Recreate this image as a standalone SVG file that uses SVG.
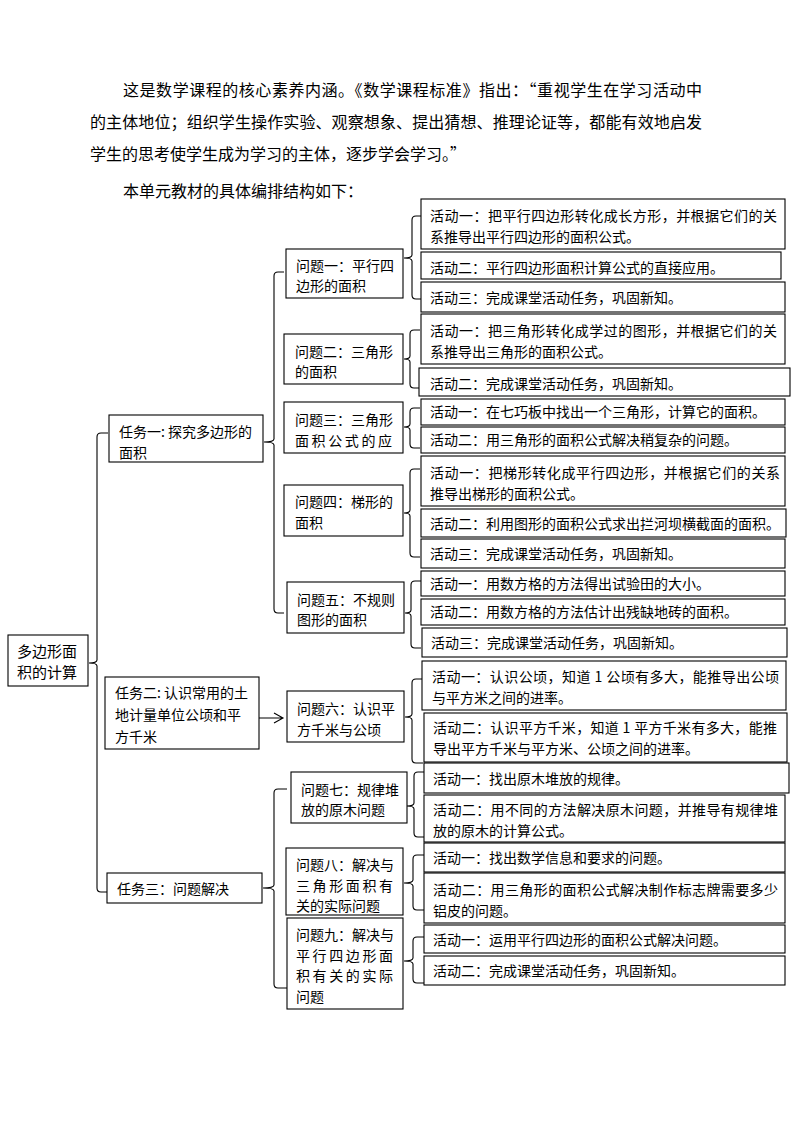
<svg xmlns="http://www.w3.org/2000/svg" width="794" height="1123" viewBox="0 0 794 1123">
<style>
  .b{fill:#fff;stroke:#000;stroke-width:1.1}
  .t{font-family:"Noto Sans CJK SC","Noto Sans CJK JP",sans-serif;font-size:14px;fill:#000}
  .p{font-family:"Noto Sans CJK SC","Noto Sans CJK JP",sans-serif;font-size:16px;fill:#000}
  .c{fill:none;stroke:#000;stroke-width:1.1}
</style>
<rect width="794" height="1123" fill="#fff"/>
<g id="intro">
  <text class="p" x="123" y="96" textLength="579" lengthAdjust="spacing">这是数学课程的核心素养内涵。《数学课程标准》指出：“重视学生在学习活动中</text>
  <text class="p" x="90" y="128" textLength="612" lengthAdjust="spacing">的主体地位；组织学生操作实验、观察想象、提出猜想、推理论证等，都能有效地启发</text>
  <text class="p" x="90" y="160">学生的思考使学生成为学习的主体，逐步学会学习。”</text>
  <text class="p" x="123" y="197">本单元教材的具体编排结构如下：</text>
</g>
<g id="connectors">
  <path class="c" d="M108 433 H101 Q97 433 97 437 V660 Q97 663 89 663 Q97 663 97 666 V888 Q97 892 101 892 H108"/>
  <path class="c" d="M284 272 H278 Q274 272 274 276 V439 Q274 442 264 442 Q274 442 274 445 V609 Q274 613 278 613 H284"/>
  <path class="c" d="M287 789 H278 Q274 789 274 793 V885 Q274 888 263 888 Q274 888 274 891 V984 Q274 988 278 988 H287"/>
  <path class="c" d="M421 216 H416 Q412 216 412 220 V255 Q412 258 404 258 Q412 258 412 261 V295 Q412 299 416 299 H421"/>
  <path class="c" d="M420 330 H414 Q410 330 410 334 V356 Q410 359 404 359 Q410 359 410 362 V384 Q410 388 414 388 H420"/>
  <path class="c" d="M420 408 H414 Q410 408 410 412 V424 Q410 427 404 427 Q410 427 410 430 V444 Q410 448 414 448 H420"/>
  <path class="c" d="M420 469 H414 Q410 469 410 473 V510 Q410 513 404 513 Q410 513 410 516 V553 Q410 557 414 557 H420"/>
  <path class="c" d="M421 581 H415 Q411 581 411 585 V610 Q411 613 405 613 Q411 613 411 616 V644 Q411 648 415 648 H421"/>
  <path class="c" d="M423 679 H416 Q412 679 412 683 V714 Q412 717 405 717 Q412 717 412 720 V759 Q412 763 416 763 H423"/>
  <path class="c" d="M424 772 H418 Q414 772 414 776 V803 Q414 806 407 806 Q414 806 414 809 V833 Q414 837 418 837 H424"/>
  <path class="c" d="M424 855 H417 Q413 855 413 859 V880 Q413 883 404 883 Q413 883 413 886 V906 Q413 910 417 910 H424"/>
  <path class="c" d="M424 937 H417 Q413 937 413 941 V958 Q413 961 404 961 Q413 961 413 964 V979 Q413 983 417 983 H424"/>
  <path class="c" d="M259 718 H282 M274 713 L283 718 L274 723"/>
</g>
<g id="root">
  <rect class="b" x="8" y="635" width="80" height="51"/>
  <text class="t" x="17" y="657" style="font-size:15px">多边形面</text>
  <text class="t" x="17" y="678" style="font-size:15px">积的计算</text>
</g>
<g id="task1">
  <rect class="b" x="109" y="415" width="154" height="47"/>
  <text class="t" x="119" y="437">任务一: 探究多边形的</text>
  <text class="t" x="119" y="458">面积</text>
</g>
<g id="task2">
  <rect class="b" x="105" y="677" width="154" height="72"/>
  <text class="t" x="115" y="698">任务二: 认识常用的土</text>
  <text class="t" x="115" y="720">地计量单位公顷和平</text>
  <text class="t" x="115" y="742">方千米</text>
</g>
<g id="task3">
  <rect class="b" x="107" y="873" width="155" height="30"/>
  <text class="t" x="117" y="894">任务三：问题解决</text>
</g>
<g id="q1">
  <rect class="b" x="286" y="249" width="117" height="49"/>
  <text class="t" x="296" y="271">问题一：平行四</text>
  <text class="t" x="296" y="291">边形的面积</text>
</g>
<g id="q2">
  <rect class="b" x="284" y="334" width="119" height="50"/>
  <text class="t" x="295" y="357">问题二：三角形</text>
  <text class="t" x="295" y="377">的面积</text>
</g>
<g id="q3">
  <rect class="b" x="284" y="402" width="119" height="51"/>
  <text class="t" x="295" y="425">问题三：三角形</text>
  <text class="t" x="295" y="446" textLength="97" lengthAdjust="spacing">面积公式的应</text>
</g>
<g id="q4">
  <rect class="b" x="284" y="485" width="119" height="51"/>
  <text class="t" x="295" y="507">问题四：梯形的</text>
  <text class="t" x="295" y="528">面积</text>
</g>
<g id="q5">
  <rect class="b" x="287" y="582" width="117" height="51"/>
  <text class="t" x="297" y="605">问题五：不规则</text>
  <text class="t" x="297" y="625">图形的面积</text>
</g>
<g id="q6">
  <rect class="b" x="287" y="691" width="117" height="51"/>
  <text class="t" x="297" y="714">问题六：认识平</text>
  <text class="t" x="297" y="735">方千米与公顷</text>
</g>
<g id="q7">
  <rect class="b" x="291" y="772" width="116" height="51"/>
  <text class="t" x="301" y="795">问题七：规律堆</text>
  <text class="t" x="301" y="815">放的原木问题</text>
</g>
<g id="q8">
  <rect class="b" x="286" y="848" width="117" height="67"/>
  <text class="t" x="296" y="870">问题八：解决与</text>
  <text class="t" x="296" y="891" textLength="97" lengthAdjust="spacing">三角形面积有</text>
  <text class="t" x="296" y="911">关的实际问题</text>
</g>
<g id="q9">
  <rect class="b" x="287" y="918" width="116" height="91"/>
  <text class="t" x="296" y="940">问题九：解决与</text>
  <text class="t" x="296" y="961" textLength="97" lengthAdjust="spacing">平行四边形面</text>
  <text class="t" x="296" y="981" textLength="97" lengthAdjust="spacing">积有关的实际</text>
  <text class="t" x="296" y="1002">问题</text>
</g>
<g id="q1-a1">
  <rect class="b" x="421" y="199" width="364" height="50"/>
  <text class="t" x="430" y="221" textLength="347" lengthAdjust="spacing">活动一：把平行四边形转化成长方形，并根据它们的关</text>
  <text class="t" x="430" y="242">系推导出平行四边形的面积公式。</text>
</g>
<g id="q1-a2">
  <rect class="b" x="421" y="252" width="360" height="27"/>
  <text class="t" x="430" y="273">活动二：平行四边形面积计算公式的直接应用。</text>
</g>
<g id="q1-a3">
  <rect class="b" x="421" y="282" width="364" height="30"/>
  <text class="t" x="430" y="303">活动三：完成课堂活动任务，巩固新知。</text>
</g>
<g id="q2-a1">
  <rect class="b" x="421" y="314" width="364" height="50"/>
  <text class="t" x="430" y="336" textLength="347" lengthAdjust="spacing">活动一：把三角形转化成学过的图形，并根据它们的关</text>
  <text class="t" x="430" y="357">系推导出三角形的面积公式。</text>
</g>
<g id="q2-a2">
  <rect class="b" x="419" y="368" width="371" height="28"/>
  <text class="t" x="430" y="389">活动二：完成课堂活动任务，巩固新知。</text>
</g>
<g id="q3-a1">
  <rect class="b" x="421" y="399" width="364" height="26"/>
  <text class="t" x="430" y="417">活动一：在七巧板中找出一个三角形，计算它的面积。</text>
</g>
<g id="q3-a2">
  <rect class="b" x="421" y="427" width="364" height="26"/>
  <text class="t" x="430" y="445">活动二：用三角形的面积公式解决稍复杂的问题。</text>
</g>
<g id="q4-a1">
  <rect class="b" x="421" y="456" width="364" height="50"/>
  <text class="t" x="430" y="478" textLength="350" lengthAdjust="spacing">活动一：把梯形转化成平行四边形，并根据它们的关系</text>
  <text class="t" x="430" y="499">推导出梯形的面积公式。</text>
</g>
<g id="q4-a2">
  <rect class="b" x="421" y="509" width="365" height="28"/>
  <text class="t" x="430" y="529">活动二：利用图形的面积公式求出拦河坝横截面的面积。</text>
</g>
<g id="q4-a3">
  <rect class="b" x="421" y="539" width="364" height="29"/>
  <text class="t" x="430" y="559">活动三：完成课堂活动任务，巩固新知。</text>
</g>
<g id="q5-a1">
  <rect class="b" x="421" y="571" width="364" height="25"/>
  <text class="t" x="430" y="589">活动一：用数方格的方法得出试验田的大小。</text>
</g>
<g id="q5-a2">
  <rect class="b" x="421" y="599" width="364" height="26"/>
  <text class="t" x="430" y="617">活动二：用数方格的方法估计出残缺地砖的面积。</text>
</g>
<g id="q5-a3">
  <rect class="b" x="422" y="628" width="365" height="29"/>
  <text class="t" x="431" y="648">活动三：完成课堂活动任务，巩固新知。</text>
</g>
<g id="q6-a1">
  <rect class="b" x="422" y="661" width="364" height="49"/>
  <text class="t" x="432" y="682" textLength="347" lengthAdjust="spacing">活动一：认识公顷，知道 1 公顷有多大，能推导出公顷</text>
  <text class="t" x="432" y="703">与平方米之间的进率。</text>
</g>
<g id="q6-a2">
  <rect class="b" x="424" y="713" width="363" height="49"/>
  <text class="t" x="433" y="733" textLength="344" lengthAdjust="spacing">活动二：认识平方千米，知道 1 平方千米有多大，能推</text>
  <text class="t" x="433" y="754">导出平方千米与平方米、公顷之间的进率。</text>
</g>
<g id="q7-a1">
  <rect class="b" x="424" y="763" width="365" height="30"/>
  <text class="t" x="433" y="784">活动一：找出原木堆放的规律。</text>
</g>
<g id="q7-a2">
  <rect class="b" x="424" y="795" width="361" height="47"/>
  <text class="t" x="433" y="815" textLength="345" lengthAdjust="spacing">活动二：用不同的方法解决原木问题，并推导有规律堆</text>
  <text class="t" x="433" y="836">放的原木的计算公式。</text>
</g>
<g id="q8-a1">
  <rect class="b" x="424" y="843" width="361" height="29"/>
  <text class="t" x="433" y="863">活动一：找出数学信息和要求的问题。</text>
</g>
<g id="q8-a2">
  <rect class="b" x="424" y="873" width="361" height="50"/>
  <text class="t" x="433" y="895" textLength="345" lengthAdjust="spacing">活动二：用三角形的面积公式解决制作标志牌需要多少</text>
  <text class="t" x="433" y="916">铝皮的问题。</text>
</g>
<g id="q9-a1">
  <rect class="b" x="424" y="925" width="361" height="28"/>
  <text class="t" x="433" y="945">活动一：运用平行四边形的面积公式解决问题。</text>
</g>
<g id="q9-a2">
  <rect class="b" x="424" y="956" width="361" height="29"/>
  <text class="t" x="433" y="976">活动二：完成课堂活动任务，巩固新知。</text>
</g>
</svg>
